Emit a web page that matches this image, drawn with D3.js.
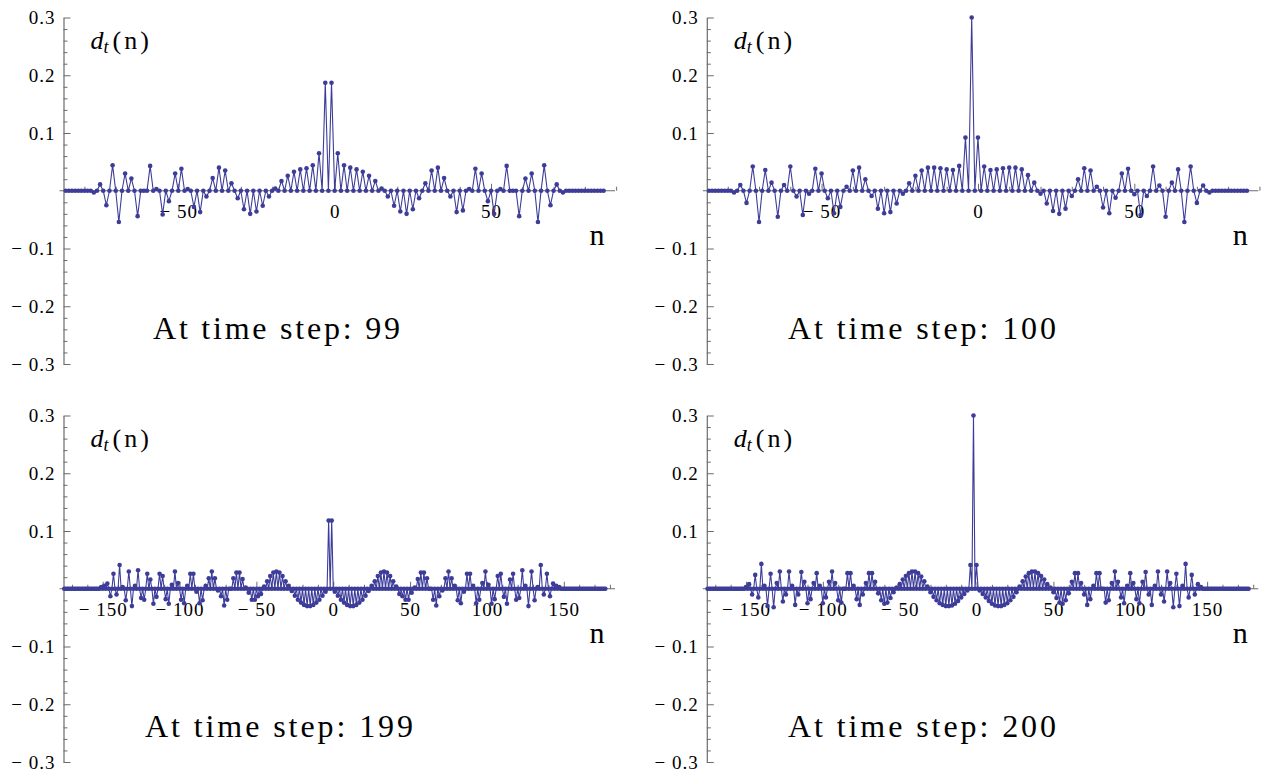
<!DOCTYPE html>
<html>
<head>
<meta charset="utf-8">
<script src="https://cdn.jsdelivr.net/npm/d3@7"></script>
<style>
body { margin: 0; background: #fff; }
svg { display: block; }
text { font-family: "Liberation Serif", "Times New Roman", serif; fill: #000; }
</style>
</head>
<body>
<div class="canvas"></div>
<script>
const canvasWidth = 1262;
const canvasHeight = 776;

// d_t(n) on the sites of the right parity (step 2 in n)
const start99 = -77;
const values99 = [
  -0.003, 0.011, -0.025, 0.044, -0.054, 0.030, 0.021, -0.044, 0.000, 0.043,
  0.003, -0.041, -0.018, 0.030, 0.038, 0.003, -0.028, -0.037, -0.010, 0.022,
  0.040, 0.035, 0.013, -0.013, -0.032, -0.040, -0.036, -0.026, -0.010, 0.004,
  0.017, 0.026, 0.033, 0.037, 0.039, 0.044, 0.065,
  0.187, 0.187,
  0.065, 0.044, 0.040, 0.037, 0.033, 0.026, 0.017, 0.004, -0.010, -0.026,
  -0.036, -0.040, -0.032, -0.013, 0.013, 0.035, 0.040, 0.022, -0.010, -0.037,
  -0.034, 0.003, 0.038, 0.030, -0.018, -0.040, 0.003, 0.043, 0.000, -0.044,
  0.021, 0.030, -0.054, 0.044, -0.025, 0.011, -0.003
];

const start100 = -78;
const values100 = [
  -0.003, 0.010, -0.021, 0.042, -0.054, 0.036, 0.014, -0.045, 0.010, 0.042,
  -0.010, -0.042, -0.005, 0.038, 0.030, -0.013, -0.039, -0.028, 0.007, 0.035,
  0.040, 0.020, -0.009, -0.031, -0.039, -0.037, -0.022, -0.005, 0.013, 0.026,
  0.035, 0.040, 0.040, 0.039, 0.037, 0.036, 0.043, 0.092,
  0.300,
  0.092, 0.042, 0.036, 0.037, 0.039, 0.040, 0.040, 0.037, 0.027, 0.014,
  -0.005, -0.022, -0.035, -0.040, -0.031, -0.009, 0.020, 0.039, 0.035, 0.007,
  -0.029, -0.039, -0.012, 0.030, 0.038, -0.006, -0.042, -0.009, 0.042, 0.009,
  -0.045, 0.014, 0.037, -0.054, 0.042, -0.021, 0.009, -0.003
];

const start199 = -151;
const values199 = [
  0.003, 0.005, 0.009, -0.013, 0.026, -0.010, 0.041, 0.003, -0.020, 0.030,
  -0.030, 0.005, 0.032, -0.016, -0.019, 0.026, 0.016, -0.026, -0.014, 0.026,
  0.022, -0.018, -0.026, 0.007, 0.030, 0.010, -0.019, -0.025, 0.005, 0.026,
  0.026, -0.005, -0.025, -0.020, 0.005, 0.018, 0.030, 0.018, -0.003, -0.013,
  -0.029, -0.019, 0.000, 0.018, 0.028, 0.028, 0.017, 0.002, -0.007, -0.019,
  -0.019, -0.013, -0.009, 0.004, 0.013, 0.022, 0.028, 0.030, 0.028, 0.022,
  0.013, 0.005, -0.004, -0.012, -0.019, -0.024, -0.028, -0.030, -0.030, -0.028,
  -0.024, -0.019, -0.012, -0.005,
  0.118, 0.118,
  -0.005, -0.012, -0.019, -0.024, -0.028, -0.030, -0.030, -0.028, -0.024, -0.019,
  -0.012, -0.004, 0.005, 0.013, 0.022, 0.028, 0.030, 0.028, 0.022, 0.013,
  0.004, -0.009, -0.013, -0.019, -0.019, -0.007, 0.002, 0.017, 0.028, 0.028,
  0.018, 0.000, -0.019, -0.029, -0.013, -0.003, 0.018, 0.030, 0.018, 0.005,
  -0.020, -0.025, -0.005, 0.026, 0.026, 0.005, -0.025, -0.019, 0.010, 0.030,
  0.007, -0.026, -0.018, 0.022, 0.026, -0.014, -0.026, 0.016, 0.026, -0.019,
  -0.016, 0.032, 0.005, -0.030, 0.030, -0.020, 0.003, 0.041, -0.010, 0.026,
  -0.013, 0.009, 0.005, 0.003
];

const start200 = -152;
const values200 = [
  0.000, 0.003, 0.008, -0.010, 0.024, -0.015, 0.043, 0.005, -0.030, 0.026,
  -0.032, 0.010, 0.030, -0.022, -0.010, 0.030, 0.005, -0.028, -0.010, 0.029,
  0.012, -0.025, -0.018, 0.010, 0.027, 0.005, -0.025, -0.015, 0.012, 0.030,
  0.010, -0.020, -0.024, 0.000, 0.027, 0.027, 0.005, -0.018, -0.028, -0.010,
  0.010, 0.027, 0.027, 0.012, -0.008, -0.020, -0.026, -0.024, -0.016, -0.006,
  0.002, 0.008, 0.016, 0.022, 0.027, 0.030, 0.030, 0.027, 0.021, 0.013,
  0.004, -0.006, -0.014, -0.020, -0.025, -0.028, -0.030, -0.030, -0.029, -0.026,
  -0.021, -0.015, -0.009, -0.003, 0.041,
  0.300,
  0.041, -0.003, -0.009, -0.015, -0.021, -0.026, -0.029, -0.030, -0.030, -0.028,
  -0.025, -0.020, -0.014, -0.006, 0.004, 0.013, 0.021, 0.027, 0.030, 0.030,
  0.027, 0.022, 0.016, 0.008, 0.002, -0.006, -0.016, -0.024, -0.026, -0.020,
  -0.008, 0.012, 0.027, 0.027, 0.010, -0.010, -0.028, -0.018, 0.005, 0.027,
  0.027, 0.000, -0.024, -0.020, 0.010, 0.030, 0.012, -0.015, -0.025, 0.005,
  0.027, 0.010, -0.018, -0.025, 0.012, 0.029, -0.010, -0.028, 0.005, 0.030,
  -0.010, -0.022, 0.030, 0.010, -0.032, 0.026, -0.030, 0.005, 0.043, -0.015,
  0.024, -0.010, 0.008, 0.003, 0.000
];

const yTicks = [-0.3, -0.2, -0.1, 0.1, 0.2, 0.3];
const xTicksShort = [-50, 0, 50];
const xTicksLong = [-150, -100, -50, 0, 50, 100, 150];
const captions = ['At time step: 99', 'At time step: 100', 'At time step: 199', 'At time step: 200'];

const blue = '#3d3d99';
const axisGrey = '#6b6b6b';

const panels = [
  { start: start99, values: values99, caption: captions[0], left: 63.5, top: 17.5,
    domain: [-86.7, 89.0], sites: [-86, 86], major: xTicksShort, minorRange: [-80, 90], capX: 153, capW: 247 },
  { start: start100, values: values100, caption: captions[1], left: 706.8, top: 17.5,
    domain: [-86.7, 89.0], sites: [-86, 86], major: xTicksShort, minorRange: [-80, 90], capX: 788, capW: 268 },
  { start: start199, values: values199, caption: captions[2], left: 63.5, top: 415.5,
    domain: [-175.5, 182.0], sites: [-175, 177], major: xTicksLong, minorRange: [-170, 180], capX: 145, capW: 268 },
  { start: start200, values: values200, caption: captions[3], left: 706.8, top: 415.5,
    domain: [-175.5, 182.0], sites: [-175, 177], major: xTicksLong, minorRange: [-170, 180], capX: 788, capW: 268 }
];

const plotW = 549.5;
const plotH = 346.5;

const svg = d3.select('.canvas')
  .append('svg')
  .attr('width', canvasWidth)
  .attr('height', canvasHeight);

const xFmt = d => d < 0 ? '\u2212 ' + Math.abs(d) : String(d);
const yFmt = d => d < 0 ? '\u2212 ' + Math.abs(d).toFixed(1) : d.toFixed(1);

function styleText(sel) {
  sel.attr('font-size', '19px')
    .attr('letter-spacing', '1px')
    .attr('font-family', '"Liberation Serif", serif')
    .attr('fill', '#000');
}

panels.forEach(p => {
  const g = svg.append('g').attr('transform', `translate(${p.left},${p.top})`);

  const x = d3.scaleLinear().domain(p.domain).range([0, plotW]);
  const y = d3.scaleLinear().domain([-0.3, 0.3]).range([plotH, 0]);

  // every site on the axis; sites of the other parity and the far tails are zero
  const series = d3.range(p.sites[0], p.sites[1] + 1).map(n => {
    const k = (n - p.start) / 2;
    const v = (Number.isInteger(k) && k >= 0 && k < p.values.length) ? p.values[k] : 0;
    return { n, v };
  });

  // y axis
  const yMinor = d3.range(-15, 16).filter(i => i % 5 !== 0).map(i => i * 0.02);
  g.append('g')
    .call(d3.axisLeft(y).tickValues(yMinor).tickSize(-4).tickSizeOuter(0).tickFormat(''))
    .call(a => a.select('.domain').remove())
    .selectAll('line').attr('stroke', axisGrey);
  const ya = g.append('g')
    .call(d3.axisLeft(y).tickValues(yTicks).tickSize(-7).tickSizeOuter(0).tickPadding(8).tickFormat(yFmt));
  ya.select('.domain').attr('stroke', axisGrey).attr('stroke-width', 1.2);
  ya.selectAll('line').attr('stroke', axisGrey);
  ya.selectAll('text').call(styleText);

  // x axis at d = 0
  const xAxisG = g.append('g').attr('transform', `translate(0,${y(0)})`);
  xAxisG.append('line')
    .attr('x1', -4).attr('x2', x(p.domain[1]) + 2)
    .attr('stroke', axisGrey).attr('stroke-width', 1);
  const xMinor = d3.range(p.minorRange[0], p.minorRange[1] + 1, 10).filter(v => v % 50 !== 0);
  xAxisG.call(d3.axisBottom(x).tickValues(xMinor).tickSize(-4).tickFormat(''))
    .call(a => a.select('.domain').remove());
  xAxisG.selectAll('line').attr('stroke', axisGrey);
  const xa = g.append('g').attr('transform', `translate(0,${y(0)})`)
    .call(d3.axisBottom(x).tickValues(p.major).tickSize(-7).tickPadding(14).tickFormat(xFmt));
  xa.select('.domain').remove();
  xa.selectAll('line').attr('stroke', axisGrey);
  xa.selectAll('text').call(styleText);

  // data: line through all sites plus a dot at each
  g.append('path')
    .datum(series)
    .attr('fill', 'none')
    .attr('stroke', blue)
    .attr('stroke-width', 1.1)
    .attr('d', d3.line().x(d => x(d.n)).y(d => y(d.v)));

  g.selectAll('circle')
    .data(series)
    .enter()
    .append('circle')
    .attr('cx', d => x(d.n))
    .attr('cy', d => y(d.v))
    .attr('r', 2.3)
    .attr('fill', blue);

  // labels
  const lab = g.append('text')
    .attr('x', 27)
    .attr('y', 31)
    .attr('font-size', '26px');
  lab.append('tspan').attr('font-style', 'italic').text('d');
  lab.append('tspan').attr('font-style', 'italic').attr('font-size', '18px').attr('dy', 4).text('t');
  lab.append('tspan').attr('dy', -4).attr('dx', 4).attr('letter-spacing', '3px').text('(n)');

  g.append('text')
    .attr('x', 526)
    .attr('y', y(0) + 54)
    .attr('font-size', '30px')
    .text('n');

  g.append('text')
    .attr('x', p.capX - p.left)
    .attr('y', y(0) + 148)
    .attr('font-size', '32px')
    .attr('textLength', p.capW)
    .attr('lengthAdjust', 'spacing')
    .text(p.caption);
});
</script>
</body>
</html>
